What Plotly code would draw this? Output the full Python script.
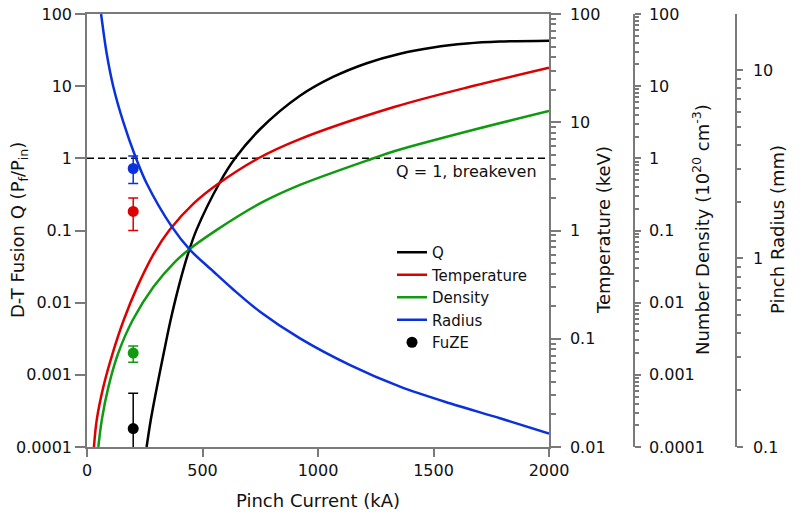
import plotly.graph_objects as go
import math

# ---------------- data ----------------
q_current = [258, 276, 303, 332, 362, 397, 438, 474, 576, 641, 749, 922, 1065, 1211, 1355, 1498, 1644, 1787, 2000]
q_values = [1.0e-4, 2.37e-4, 6.86e-4, 1.99e-3, 5.75e-3, 0.0167, 0.0483, 0.102, 0.47, 1.0, 2.53, 7.35, 13.4, 20.8, 28.2, 34.4, 39.0, 41.5, 42.7]

t_current = [30, 42, 71, 111, 159, 218, 290, 357, 462, 571, 742, 911, 1333, 1670, 2000]
t_values = [0.01, 0.0177, 0.0361, 0.0734, 0.149, 0.303, 0.615, 1.01, 1.78, 2.73, 4.65, 6.85, 13.9, 21.6, 31.9]

n_current = [49, 64, 93, 135, 198, 288, 382, 439, 562, 749, 922, 1247, 1333, 1670, 2000]
n_values = [1e-4, 2.37e-4, 6.86e-4, 1.99e-3, 5.75e-3, 0.0166, 0.037, 0.0537, 0.102, 0.237, 0.428, 1.02, 1.265, 2.47, 4.53]

r_current = [61, 85, 114, 157, 210, 258, 367, 446, 547, 633, 749, 922, 1139, 1355, 1571, 1788, 2000]
r_values = [19.8, 12.27, 8.15, 5.30, 3.455, 2.506, 1.475, 1.11, 0.853, 0.685, 0.522, 0.377, 0.272, 0.209, 0.1705, 0.142, 0.118]

fuze_current = [200]
fuze_q = [1.8e-4]
fuze_q_plus = [3.75e-4]
fuze_q_minus = [1.7e-4]
fuze_t = [1.5]
fuze_t_err = [0.5]
fuze_n = [0.002]
fuze_n_err = [0.0005]
fuze_r = [3.0]
fuze_r_err = [0.5]

breakeven_x = [0, 2000]
breakeven_q = [1, 1]

x_ticks = [0, 500, 1000, 1500, 2000]
q_ticks = [1e-4, 1e-3, 1e-2, 0.1, 1, 10, 100]
q_ticktext = ["0.0001", "0.001", "0.01", "0.1", "1", "10", "100"]
t_ticks = [0.01, 0.1, 1, 10, 100]
t_ticktext = ["0.01", "0.1", "1", "10", "100"]
n_ticks = q_ticks
n_ticktext = q_ticktext
r_ticks = [0.1, 1, 10]
r_ticktext = ["0.1", "1", "10"]
r_top = 19.8

# ---------------- style ----------------
W, H = 800, 524
FONT = "DejaVu Sans"
TXT = "#111111"
AX = "#7a7a7a"
BLACK, RED, GREEN, BLUE = "#000000", "#dc0000", "#109a10", "#0a32dc"


def PX(p):
    return p / W


def PY(p):
    return 1 - p / H


x_dom = [PX(87), PX(549)]
y_dom = [PY(447), PY(14)]


def minor_vals(lo, hi):
    out = []
    for k in range(int(math.floor(lo)), int(math.ceil(hi)) + 1):
        for m in range(2, 10):
            v = m * 10 ** k
            if 10 ** lo <= v <= 10 ** hi:
                out.append(v)
    return out


fig = go.Figure()
lw = 2.5
spl = dict(shape="spline", smoothing=0.9)
fig.add_trace(go.Scatter(x=q_current, y=q_values, name="Q", mode="lines",
                         line=dict(color=BLACK, width=lw, **spl), yaxis="y"))
fig.add_trace(go.Scatter(x=t_current, y=t_values, name="Temperature", mode="lines",
                         line=dict(color=RED, width=lw, **spl), yaxis="y2"))
fig.add_trace(go.Scatter(x=n_current, y=n_values, name="Density", mode="lines",
                         line=dict(color=GREEN, width=lw, **spl), yaxis="y3"))
fig.add_trace(go.Scatter(x=r_current, y=r_values, name="Radius", mode="lines",
                         line=dict(color=BLUE, width=lw, **spl), yaxis="y4"))
fig.add_trace(go.Scatter(x=breakeven_x, y=breakeven_q, mode="lines", showlegend=False,
                         line=dict(color=BLACK, width=1.5, dash="7px,4px"), yaxis="y", hoverinfo="skip"))


def err(arr, minus=None, color=BLACK):
    d = dict(type="data", array=arr, color=color, thickness=1.5, width=5, visible=True)
    if minus is not None:
        d["symmetric"] = False
        d["arrayminus"] = minus
    return d


fig.add_trace(go.Scatter(x=fuze_current, y=fuze_r, mode="markers", showlegend=False,
                         marker=dict(color=BLUE, size=11), error_y=err(fuze_r_err, color=BLUE), yaxis="y4"))
fig.add_trace(go.Scatter(x=fuze_current, y=fuze_t, mode="markers", showlegend=False,
                         marker=dict(color=RED, size=11), error_y=err(fuze_t_err, color=RED), yaxis="y2"))
fig.add_trace(go.Scatter(x=fuze_current, y=fuze_n, mode="markers", showlegend=False,
                         marker=dict(color=GREEN, size=11), error_y=err(fuze_n_err, color=GREEN), yaxis="y3"))
fig.add_trace(go.Scatter(x=fuze_current, y=fuze_q, mode="markers", showlegend=False, name="FuZE",
                         marker=dict(color=BLACK, size=11),
                         error_y=err(fuze_q_plus, fuze_q_minus, color=BLACK), yaxis="y"))
# legend entry for the FuZE points (plain dot, as in the reference)
fig.add_trace(go.Scatter(x=[None], y=[None], mode="markers", name="FuZE",
                         marker=dict(color=BLACK, size=11), yaxis="y"))

tickfont = dict(family=FONT, size=16, color=TXT)
common = dict(type="log", showline=True, linecolor=AX, linewidth=1.5, ticks="outside",
              tickcolor=AX, tickwidth=1.5, showgrid=False, zeroline=False, automargin=False,
              tickmode="array", tickfont=tickfont, domain=y_dom, ticklabeloverflow="allow")


def minor(lo, hi, ln):
    return dict(tickmode="array", tickvals=minor_vals(lo, hi), ticklen=ln,
                ticks="outside", tickcolor=AX, tickwidth=1.5)


fig.update_layout(
    width=W, height=H, template="none",
    paper_bgcolor="white", plot_bgcolor="white",
    margin=dict(l=0, r=0, t=0, b=0),
    font=dict(family=FONT, size=16, color=TXT),
    showlegend=True,
    legend=dict(x=PX(392), y=PY(236), xanchor="left", yanchor="top",
                bgcolor="rgba(0,0,0,0)", font=dict(family=FONT, size=15, color=TXT),
                tracegroupgap=0),
    xaxis=dict(domain=x_dom, range=[0, 2000], showline=True, linecolor=AX, linewidth=1.5,
               mirror=True, ticks="outside", ticklen=8, tickcolor=AX, tickwidth=1.5,
               tickmode="array", tickvals=x_ticks, tickfont=tickfont, showgrid=False,
               zeroline=False, automargin=False, anchor="y", ticklabeloverflow="allow"),
    yaxis=dict(common, range=[-4, 2], tickvals=q_ticks, ticktext=q_ticktext, ticklen=10,
               side="left", anchor="x"),
    yaxis2=dict(common, range=[-2, 2], tickvals=t_ticks, ticktext=t_ticktext, ticklen=10,
                side="right", anchor="x", overlaying="y", ticklabelstandoff=6,
                minor=minor(-2, 2, 5)),
    yaxis3=dict(common, range=[-4, 2], tickvals=n_ticks, ticktext=n_ticktext, ticklen=6,
                side="right", anchor="free", position=PX(634), overlaying="y",
                ticklabelstandoff=5, minor=minor(-4, 2, 4)),
    yaxis4=dict(common, range=[-1, math.log10(r_top)], tickvals=r_ticks, ticktext=r_ticktext,
                ticklen=6, side="right", anchor="free", position=PX(736), overlaying="y",
                ticklabelstandoff=7, minor=minor(-1, math.log10(r_top), 4)),
)

title_font = dict(family=FONT, size=18, color=TXT)
ann = [
    dict(text="Pinch Current (kA)", x=PX(318), y=PY(500), xref="paper", yref="paper",
         xanchor="center", yanchor="middle", showarrow=False, font=title_font),
    dict(text="D-T Fusion Q (P<sub>f</sub>/P<sub>in</sub>)", x=PX(19), y=PY(230),
         xref="paper", yref="paper", xanchor="center", yanchor="middle", textangle=-90,
         showarrow=False, font=title_font),
    dict(text="Temperature (keV)", x=PX(603), y=PY(230), xref="paper", yref="paper",
         xanchor="center", yanchor="middle", textangle=-90, showarrow=False, font=title_font),
    dict(text="Number Density (10<sup>20</sup> cm<sup>-3</sup>)", x=PX(701), y=PY(230),
         xref="paper", yref="paper", xanchor="center", yanchor="middle", textangle=-90,
         showarrow=False, font=title_font),
    dict(text="Pinch Radius (mm)", x=PX(777), y=PY(230), xref="paper", yref="paper",
         xanchor="center", yanchor="middle", textangle=-90, showarrow=False, font=title_font),
    dict(text="Q = 1, breakeven", x=PX(539), y=PY(171.5), xref="paper", yref="paper",
         xanchor="right", yanchor="middle", showarrow=False,
         font=dict(family=FONT, size=16, color=TXT)),
]
fig.update_layout(annotations=ann)

fig.write_html("out.html", config={"displayModeBar": False},
               post_script="document.body.style.margin='0px';")
